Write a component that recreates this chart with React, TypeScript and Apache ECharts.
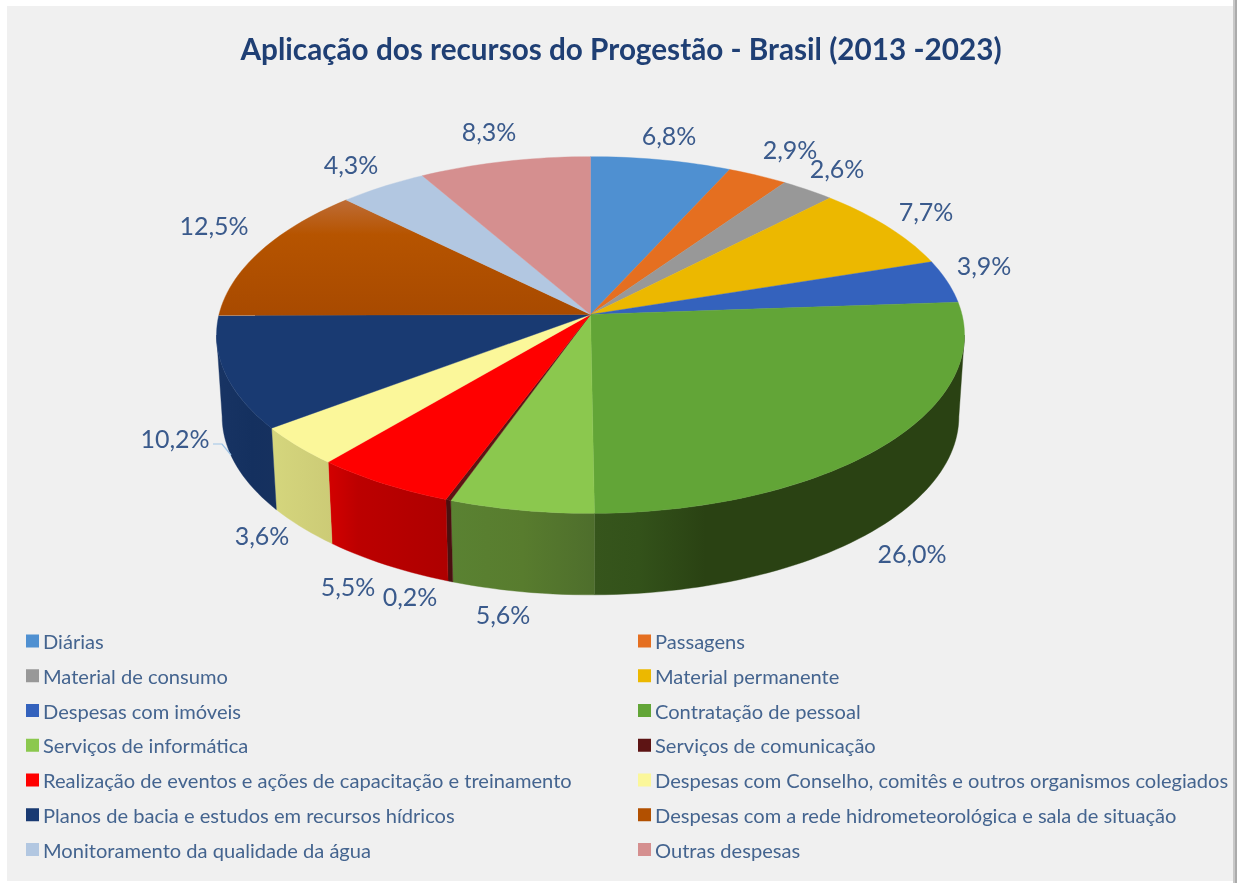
import React, { useEffect, useRef } from "react";
import * as echarts from "echarts";

const titleText = "Aplicação dos recursos do Progestão - Brasil (2013 -2023)";
const categories = [
  "Diárias",
  "Passagens",
  "Material de consumo",
  "Material permanente",
  "Despesas com imóveis",
  "Contratação de pessoal",
  "Serviços de informática",
  "Serviços de comunicação",
  "Realização de eventos e ações de capacitação e treinamento",
  "Despesas com Conselho, comitês e outros organismos colegiados",
  "Planos de bacia e estudos em recursos hídricos",
  "Despesas com a rede hidrometeorológica e sala de situação",
  "Monitoramento da qualidade da água",
  "Outras despesas",
];
const values = [6.8, 2.9, 2.6, 7.7, 3.9, 26.0, 5.6, 0.2, 5.5, 3.6, 10.2, 12.5, 4.3, 8.3];

const colors = ["#4f90d1", "#e56f20", "#989898", "#ecb800", "#3462bd", "#62a537", "#8bc84e", "#5d1414", "#ff0000", "#fbf79a", "#193a72", "#b25000", "#b2c7e1", "#d58f8f"];

// layout (not data): label centres in page pixels
const labelCenters = [
  [669, 135], [790, 149], [837, 168], [926, 211], [984, 265], [912, 553], [503, 614],
  [410, 596], [348, 586], [262, 535], [175, 438], [214, 225], [351, 164], [489, 131],
];

const wallStops: Record<number, [number, string][]> = {
  5: [[0, "#36551c"], [0.12, "#33521a"], [0.3, "#2a4213"], [1, "#2a4213"]],
  6: [[0, "#5a8232"], [0.5, "#587c2e"], [1, "#4e6e2c"]],
  7: [[0, "#4a1010"], [1, "#4a1010"]],
  8: [[0, "#d30000"], [0.25, "#bc0000"], [1, "#ae0000"]],
  9: [[0, "#d5d67d"], [1, "#cccb76"]],
  10: [[0, "#183464"], [0.6, "#14305f"], [1, "#16315f"]],
};

const CX = 590.5, CY = 314.5, RX = 371.5, RY = 176, PERSP = 0.115, DEPTH = 81.5, BOTTOM_SCALE = 0.985;
const WALL_FROM = 96.6, WALL_TO = 263.4;
const total = values.reduce((s, v) => s + v, 0);

const top = (deg: number) => {
  const t = (deg * Math.PI) / 180;
  const w = 1 + PERSP * Math.cos(t);
  return [CX + (RX * Math.sin(t)) / w, CY - (RY * Math.cos(t)) / w];
};
const bottom = (deg: number) => {
  const p = top(deg);
  return [CX + (p[0] - CX) * BOTTOM_SCALE, p[1] + DEPTH];
};
const arc = (fn: (d: number) => number[], a: number, b: number) => {
  const n = Math.max(2, Math.ceil(Math.abs(b - a) / 1.5));
  const pts: number[][] = [];
  for (let i = 0; i <= n; i++) pts.push(fn(a + ((b - a) * i) / n));
  return pts;
};

const startOf = (i: number) => (values.slice(0, i).reduce((s, v) => s + v, 0) / total) * 360;

const renderSlice = (i: number) => () => {
  const a0 = startOf(i);
  const a1 = startOf(i + 1);
  const children: any[] = [];
  const w0 = Math.max(a0, WALL_FROM);
  const w1 = Math.min(a1, WALL_TO);
  if (w1 > w0 && wallStops[i]) {
    const pts = [...arc(top, w0, w1), ...arc(bottom, w1, w0)];
    const grad = new echarts.graphic.LinearGradient(0, 0, 1, 0, wallStops[i].map(([offset, color]) => ({ offset, color })));
    children.push({
      type: "polygon",
      shape: { points: pts },
      style: { fill: grad, stroke: grad, lineWidth: 0.4 },
    });
  }
  const fill =
    i === 11
      ? new echarts.graphic.LinearGradient(0, 0, 0, 1, [
          { offset: 0, color: "#be6c36" },
          { offset: 0.3, color: "#b65400" },
          { offset: 1, color: "#a84a00" },
        ])
      : colors[i];
  const stroke = i === 11 ? "#b25000" : colors[i];
  children.push({
    type: "polygon",
    shape: { points: [[CX, CY], ...arc(top, a0, a1)] },
    style: { fill, stroke, lineWidth: 0.4 },
  });
  if (i === 10) {
    children.push({
      type: "polyline",
      shape: { points: [[213, 444], [222, 444], [231, 455]] },
      style: { stroke: "#9dc3e6", lineWidth: 1.2, fill: "none" },
    });
  }
  children.push({
    type: "text",
    x: labelCenters[i][0],
    y: labelCenters[i][1],
    style: {
      text: values[i].toFixed(1).replace(".", ",") + "%",
      fill: "#3a5a8c",
      font: '25px Lato',
      align: "center",
      verticalAlign: "middle",
    },
  });
  return { type: "group", children };
};

const legendText = { color: "#44648f", fontFamily: "Lato", fontSize: 20.1, lineHeight: 20, padding: [0, 0, 0, -1] };

export default function App() {
  const ref = useRef<HTMLDivElement>(null);
  useEffect(() => {
    document.body.style.margin = "0";
    document.body.style.background = "#ffffff";
    const chart = echarts.init(ref.current!, null, { renderer: "svg" });
    chart.setOption({
      animation: false,
      backgroundColor: "#ffffff",
      title: {
        text: titleText,
        left: 616,
        top: 28,
        textAlign: "center",
        textStyle: { fontFamily: "Lato", fontWeight: "bold", fontSize: 29.7, color: "#1f3f74" },
      },
      graphic: [
        { type: "rect", z: -10, shape: { x: 7, y: 6, width: 1226, height: 875 }, style: { fill: "#f0f0f0" } },
        { type: "rect", z: -9, shape: { x: 1233, y: 0, width: 2, height: 883 }, style: { fill: "#c8c8c8" } },
        { type: "rect", z: -9, shape: { x: 1235, y: 0, width: 2, height: 883 }, style: { fill: "#ababab" } },
      ],
      legend: [0, 1].map((col) => ({
        orient: "vertical",
        left: col === 0 ? 26 : 638,
        top: 631,
        itemWidth: 13,
        itemHeight: 13,
        itemGap: 14.75,
        icon: "rect",
        selectedMode: false,
        padding: 0,
        textStyle: legendText,
        data: categories.filter((_, i) => i % 2 === col),
      })),
      series: categories.map((name, i) => ({
        type: "custom",
        name,
        coordinateSystem: "none",
        itemStyle: { color: colors[i] },
        renderItem: renderSlice(i),
        data: [[values[i]]],
      })),
    });
    return () => chart.dispose();
  }, []);
  return <div ref={ref} style={{ width: 1237, height: 883, filter: "blur(0.7px)" }} />;
}
